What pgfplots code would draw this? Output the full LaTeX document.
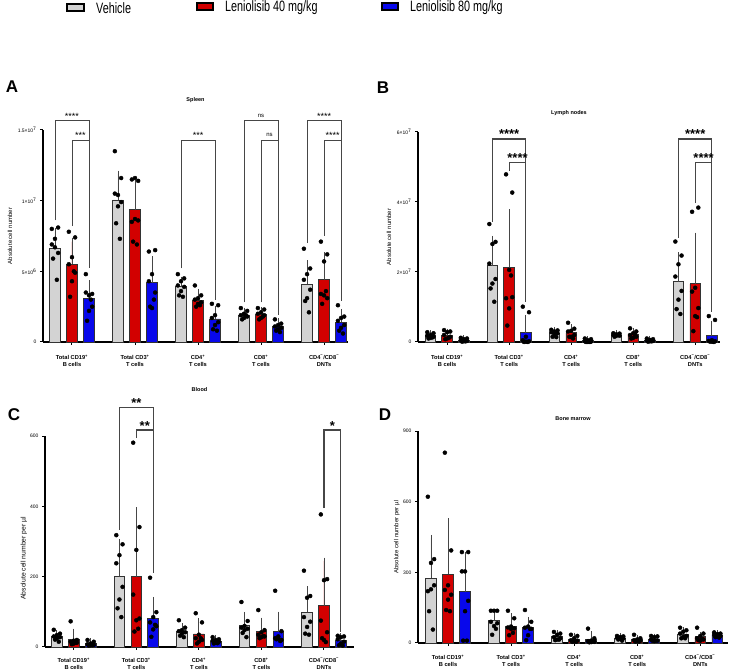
\documentclass[border=0pt]{standalone}
\usepackage{fontspec}
\setmainfont{Liberation Sans}
\newfontfamily\legfont[FakeStretch=0.72]{Liberation Sans}
\usepackage{pgfplots}
\usepackage{pgfplotstable}
\pgfplotsset{compat=1.18}

\definecolor{cgray}{RGB}{211,211,211}
\definecolor{cred}{RGB}{210,0,0}
\definecolor{cblue}{RGB}{8,8,235}
\definecolor{cline}{RGB}{70,70,70}

% ---------- Spleen (x 10^6) ----------
\pgfplotstableread{
g m0 e0 m1 e1 m2 e2
0 6.6 1.2 5.5 1.6 3.1 1.05
1 10.05 1.85 9.35 1.85 4.2 1.65
2 3.9 0.5 2.97 0.55 1.63 0.65
3 1.9 0.3 1.96 0.3 1.08 0.35
4 4.1 1.45 4.4 1.7 1.4 0.7
}\barsA
\pgfplotstableread{
g s v1 v2 v3 v4 v5 v6 v7 v8
0 -1 8.0 8.1 7.3 6.9 6.3 6.7 5.9 4.4
0 0 7.8 7.4 6.0 5.5 4.9 4.3 3.2 5.0
0 1 4.8 3.4 3.3 3.5 2.5 2.2 1.5 3.0
1 -1 13.5 11.6 10.4 10.5 9.9 9.6 8.4 7.3
1 0 11.5 11.4 11.6 8.5 8.6 8.7 7.1 6.9
1 1 6.4 6.5 4.8 4.3 3.5 2.4 2.5 3.0
2 -1 4.8 4.5 4.3 4.0 3.9 3.6 3.3 3.2
2 0 4.0 3.3 3.1 3.0 2.8 2.7 2.5 2.6
2 1 2.7 2.6 1.9 1.7 1.4 1.2 0.9 0.8
3 -1 2.4 2.2 2.0 1.9 1.8 1.7 1.6 1.9
3 0 2.4 2.3 2.1 2.0 1.9 1.7 1.6 1.8
3 1 1.6 1.3 1.2 1.1 1.0 0.9 0.8 0.7
4 -1 6.6 5.2 4.8 4.4 3.7 3.1 2.9 2.1
4 0 7.1 6.2 5.7 3.4 3.1 3.3 2.7 3.6
4 1 2.6 1.8 1.7 1.5 1.2 1.0 0.8 0.6
}\dotsA

% ---------- Lymph nodes (x 10^6) ----------
\pgfplotstableread{
g m0 e0 m1 e1 m2 e2
0 1.76 0.6 1.96 0.9 0.54 0.4
1 21.8 7.6 21.2 15.8 2.6 4.2
2 2.5 0.8 2.7 1.4 0.33 0.4
3 2.0 0.4 2.16 0.9 0.46 0.35
4 17.2 7.5 16.6 13.7 1.8 3.3
}\barsB
\pgfplotstableread{
g s v1 v2 v3 v4 v5 v6 v7 v8
0 -1 2.8 2.5 2.0 1.8 1.5 1.2 1.0 1.3
0 0 3.4 3.0 2.8 2.0 1.5 1.0 0.8 1.2
0 1 1.2 1.0 0.8 0.5 0.3 0.2 0.1 0.2
1 -1 33.7 28.6 28.0 22.4 18.0 16.7 15.3 11.5
1 0 47.9 42.7 20.6 12.5 12.8 9.6 4.7 19.0
1 1 10.1 8.5 1.5 0.5 0.2 0.1 0.0 0.0
2 -1 3.5 3.3 3.0 2.8 2.5 2.0 1.5 1.4
2 0 5.5 3.8 3.2 3.0 2.0 1.5 1.5 1.0
2 1 1.0 0.8 0.5 0.2 0.1 0 0 0
3 -1 2.5 2.4 2.2 2.0 1.8 1.8 1.5 2.0
3 0 3.9 3.0 2.5 2.0 1.5 1.2 1.0 2.2
3 1 1.0 0.8 0.6 0.5 0.3 0.2 0.1 0.2
4 -1 28.7 24.7 22.2 18.7 14.6 12.1 9.4 8.0
4 0 37.2 38.4 15.5 14.4 9.7 7.4 3.1 7.1
4 1 7.4 6.3 0.5 0.3 0.2 0.1 0.1 0.0
}\dotsB

% ---------- Blood ----------
\pgfplotstableread{
g m0 e0 m1 e1 m2 e2
0 30 8 21 22 9 6
1 201 96 200 188 81.5 52
2 45.5 12.5 37 35 17 8
3 60.6 30 43 31 43 48
4 98.6 65 117 128 18 12
}\barsC
\pgfplotstableread{
g s v1 v2 v3 v4 v5 v6 v7 v8
0 -1 49 38 34 30 28 25 21 15
0 0 73 20 18 15 12 10 8 12
0 1 20 15 10 8 6 5 4 5
1 -1 318 292 261 238 171 135 110 85
1 0 581 341 276 149 81 76 44 52
1 1 197 99 85 70 59 50 29 63
2 -1 76 55 48 45 42 38 32 28
2 0 96 70 35 25 20 15 10 25
2 1 28 22 20 18 15 12 10 11
3 -1 128 74 60 55 52 48 40 28
3 0 105 48 42 35 30 28 25 31
3 1 160 45 30 25 20 25 22 17
4 -1 217 145 140 85 72 57 38 35
4 0 377 193 190 75 42 20 25 14
4 1 32 30 28 22 15 10 5 4
}\dotsC

% ---------- Bone marrow ----------
\pgfplotstableread{
g m0 e0 m1 e1 m2 e2
0 275 170 292 223 217 154
1 94 31 72 41 66 31
2 26 14 16 14 15 20
3 21 6 14 8 17 9
4 38 16 26 7 33 8
}\barsD
\pgfplotstableread{
g s v1 v2 v3 v4 v5 v6 v7 v8
0 -1 621 356 340 220 245 228 135 57
0 0 808 393 245 225 205 184 140 135
0 1 386 386 304 304 179 135 10 10
1 -1 137 137 137 90 84 72 35 60
1 0 137 105 70 66 62 60 33 43
1 1 140 90 70 65 60 33 12 60
2 -1 47 40 35 25 20 15 12 14
2 0 35 30 20 12 10 8 5 5
2 1 61 20 10 8 5 4 3 9
3 -1 30 28 25 22 20 18 15 10
3 0 35 20 15 12 10 8 6 6
3 1 30 28 25 15 10 8 10 10
4 -1 65 54 48 40 30 26 20 20
4 0 65 40 30 20 15 10 12 16
4 1 45 40 38 35 30 28 25 23
}\dotsD

\tikzset{br/.style={draw=cline, line width=#1}}

\pgfplotsset{
  panel/.style={
    scale only axis, clip=false,
    axis x line=bottom, axis y line=left,
    axis line style={line width=1.2pt, black, -},
    ymin=0,
    xtick={0,1,2,3,4},
    xticklabels={{Total CD19\textsuperscript{+}\\B cells},{Total CD3\textsuperscript{+}\\T cells},{CD4\textsuperscript{+}\\T cells},{CD8\textsuperscript{+}\\T cells},{CD4\textsuperscript{−}/CD8\textsuperscript{−}\\DNTs}},
    xticklabel style={align=center, font=\bfseries\fontsize{5.7}{7}\selectfont, yshift=-6.5pt},
    yticklabel style={font=\fontsize{5}{6}\selectfont},
    tick align=outside, major tick length=3pt,
    tick style={line width=1pt, black},
    ylabel style={font=\fontsize{6}{7}\selectfont, anchor=center},
    title style={font=\bfseries\fontsize{5.5}{7}\selectfont, anchor=center},
  },
  gbar/.style={ybar, bar width=0.17, bar shift=0pt, fill=#1, draw=black!80, line width=0.8pt,
    error bars/.cd, y dir=plus, y explicit,
    error bar style={line width=0.9pt, draw=cline},
    error mark options={mark size=3.3pt, line width=0.9pt, draw=cline}},
  dots/.style={only marks, mark=*, mark size=2pt, black},
}

\newcommand{\drawpanel}[2]{%
  \addplot[gbar=cgray] table[x expr=\thisrow{g}-0.27, y=m0, y error=e0]{#1};
  \addplot[gbar=cred] table[x expr=\thisrow{g}, y=m1, y error=e1]{#1};
  \addplot[gbar=cblue] table[x expr=\thisrow{g}+0.27, y=m2, y error=e2]{#1};
  \foreach \c/\j in {v1/-0.05,v2/0.05,v3/0,v4/-0.05,v5/0.05,v6/0,v7/-0.03,v8/0.03}{
    \addplot[dots] table[x expr=\thisrow{g}+0.27*\thisrow{s}+\j, y=\c]{#2};
  }
}

\begin{document}
\begin{tikzpicture}
\path[use as bounding box] (0,0) rectangle (730pt,671pt);

% legend
\draw[fill=cgray, line width=1.6pt] (67pt,660pt) rectangle (84pt,667pt);
\node[anchor=base west, inner sep=0, font=\legfont\fontsize{15}{15}\selectfont] at (96pt,657pt) {Vehicle};
\draw[fill=cred, line width=1.6pt] (197pt,661pt) rectangle (213pt,668pt);
\node[anchor=base west, inner sep=0, font=\legfont\fontsize{15}{15}\selectfont] at (225pt,659pt) {Leniolisib 40 mg/kg};
\draw[fill=cblue, line width=1.6pt] (382pt,661pt) rectangle (398pt,668pt);
\node[anchor=base west, inner sep=0, font=\legfont\fontsize{15}{15}\selectfont] at (410pt,659pt) {Leniolisib 80 mg/kg};

% panel letters
\node[font=\bfseries\fontsize{17}{17}\selectfont] at (12pt,584pt) {A};
\node[font=\bfseries\fontsize{17}{17}\selectfont] at (383pt,583pt) {B};
\node[font=\bfseries\fontsize{17}{17}\selectfont] at (14pt,256pt) {C};
\node[font=\bfseries\fontsize{17}{17}\selectfont] at (385pt,256pt) {D};

% ===== A: Spleen =====
\begin{axis}[panel, at={(43pt,329pt)}, anchor=south west, width=305pt, height=212pt,
  xmin=-0.46, xmax=4.38, ymax=15,
  ytick={0,5,10,15}, yticklabels={0,5×10\textsuperscript{6},1×10\textsuperscript{7},1.5×10\textsuperscript{7}},
  ylabel={Absolute cell number}, ylabel style={at={(axis description cs:-0.108,0.5)}},
  title={Spleen}, title style={at={(axis description cs:0.5,1)}, yshift=24pt}]
\drawpanel{\barsA}{\dotsA}
\draw[br=0.7pt] (axis cs:-0.27,8.6) |- (axis cs:0.27,15.7) -- (axis cs:0.27,5.2);
\draw[br=0.7pt] (axis cs:0,8.2) |- (axis cs:0.27,14.3);
\draw[br=0.7pt] (axis cs:1.73,5.2) |- (axis cs:2.27,14.3) -- (axis cs:2.27,3.0);
\draw[br=0.7pt] (axis cs:2.73,2.8) |- (axis cs:3.27,15.7) -- (axis cs:3.27,1.9);
\draw[br=0.7pt] (axis cs:3,2.8) |- (axis cs:3.27,14.3);
\draw[br=0.7pt] (axis cs:3.73,7.0) |- (axis cs:4.27,15.7) -- (axis cs:4.27,2.9);
\draw[br=0.7pt] (axis cs:4,7.5) |- (axis cs:4.27,14.3);
\begin{scope}[every node/.style={anchor=base, inner sep=0, font=\fontsize{9}{9}\selectfont, yshift=1pt}]
\node at (axis cs:0,15.7) {****};
\node at (axis cs:0.135,14.3) {***};
\node at (axis cs:2,14.3) {***};
\node at (axis cs:4,15.7) {****};
\node at (axis cs:4.135,14.3) {****};
\end{scope}
\begin{scope}[every node/.style={anchor=base, inner sep=0, font=\fontsize{6}{6}\selectfont, yshift=3pt}]
\node at (axis cs:3,15.7) {ns};
\node at (axis cs:3.135,14.3) {ns};
\end{scope}
\end{axis}

% ===== B: Lymph nodes =====
\begin{axis}[panel, at={(418pt,329pt)}, anchor=south west, width=302pt, height=210pt,
  xmin=-0.47, xmax=4.40, ymax=60,
  ytick={0,20,40,60}, yticklabels={0,2×10\textsuperscript{7},4×10\textsuperscript{7},6×10\textsuperscript{7}},
  ylabel={Absolute cell number}, ylabel style={at={(axis description cs:-0.096,0.5)}},
  title={Lymph nodes}, title style={at={(axis description cs:0.5,1)}, yshift=13pt}]
\drawpanel{\barsB}{\dotsB}
\draw[br=1.1pt] (axis cs:0.73,34.3) |- (axis cs:1.27,58.0) -- (axis cs:1.27,11.4);
\draw[br=1.1pt] (axis cs:1,48.9) |- (axis cs:1.27,51.4);
\draw[br=1.1pt] (axis cs:3.73,29.7) |- (axis cs:4.27,58.0) -- (axis cs:4.27,8.6);
\draw[br=1.1pt] (axis cs:4,39.7) |- (axis cs:4.27,51.4);
\begin{scope}[every node/.style={anchor=base, inner sep=0, font=\bfseries\fontsize{13}{13}\selectfont}]
\node at (axis cs:1,58.0) {****};
\node at (axis cs:1.135,51.4) {****};
\node at (axis cs:4,58.0) {****};
\node at (axis cs:4.135,51.4) {****};
\end{scope}
\end{axis}

% ===== C: Blood =====
\begin{axis}[panel, at={(45pt,24pt)}, anchor=south west, width=309pt, height=211pt,
  xmin=-0.46, xmax=4.48, ymax=600,
  xticklabel style={yshift=2pt},
  ytick={0,200,400,600}, yticklabels={0,200,400,600},
  ylabel={Absolute cell number per µl}, ylabel style={at={(axis description cs:-0.068,0.42)}, font=\fontsize{6.8}{8}\selectfont},
  title={Blood}, title style={at={(axis description cs:0.5,1)}, yshift=40pt}]
\drawpanel{\barsC}{\dotsC}
\draw[br=1.1pt] (axis cs:0.73,333) |- (axis cs:1.27,680) -- (axis cs:1.27,210);
\draw[br=1.1pt] (axis cs:1,594) |- (axis cs:1.27,617);
\draw[br=1.1pt] (axis cs:4,395) |- (axis cs:4.27,617) -- (axis cs:4.27,43);
\begin{scope}[every node/.style={anchor=base, inner sep=0, font=\bfseries\fontsize{13}{13}\selectfont}]
\node at (axis cs:1,680) {**};
\node at (axis cs:1.135,617) {**};
\node at (axis cs:4.135,617) {*};
\end{scope}
\end{axis}

% ===== D: Bone marrow =====
\begin{axis}[panel, at={(418pt,28pt)}, anchor=south west, width=310pt, height=212pt,
  xmin=-0.476, xmax=4.44, ymax=900,
  xticklabel style={yshift=1pt},
  ytick={0,300,600,900}, yticklabels={0,300,600,900},
  ylabel={Absolute cell number per µl}, ylabel style={at={(axis description cs:-0.068,0.5)}},
  title={Bone marrow}, title style={at={(axis description cs:0.5,1)}, yshift=6pt}]
\drawpanel{\barsD}{\dotsD}
\end{axis}
\end{tikzpicture}
\end{document}
